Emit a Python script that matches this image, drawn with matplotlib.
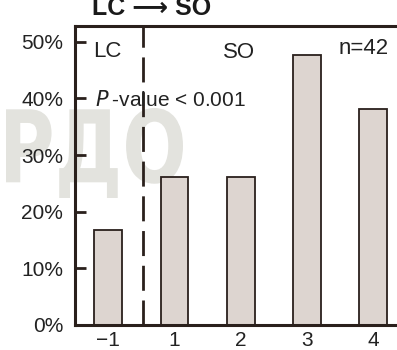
import matplotlib
matplotlib.use("Agg")
import matplotlib.pyplot as plt
from matplotlib.textpath import TextPath
from matplotlib.patches import PathPatch
from matplotlib.font_manager import FontProperties
from matplotlib.transforms import Affine2D

plt.rcParams['font.family'] = ['Liberation Sans', 'DejaVu Sans']

# share of patients per score group
groups = ["\u22121", "1", "2", "3", "4"]
shares = [16.7, 26.2, 26.2, 47.6, 38.1]
yticks = [0, 10, 20, 30, 40, 50]
ytick_labels = ["0%", "10%", "20%", "30%", "40%", "50%"]

dark = "#2a201c"
bar_fill = "#ddd5d0"

W, H = 397, 350
fig = plt.figure(figsize=(W / 100, H / 100), dpi=100)

# faint background stamp
tp = TextPath((0, 0), "\u0420\u0414\u041e", prop=FontProperties(family="DejaVu Sans", weight="bold"))
bb = tp.get_extents()
x0, x1, ytop, ybot = 6, 183, 108, 198
sx = (x1 - x0) / bb.width
sy = (ytop - ybot) / bb.height
tr = Affine2D().translate(-bb.x0, -bb.y0).scale(sx / W, -sy / H).translate(x0 / W, 1 - ybot / H)
stamp = PathPatch(tr.transform_path(tp), facecolor="#e3e3de", edgecolor="none",
                  transform=fig.transFigure, zorder=-1)
fig.patches.append(stamp)

ax = fig.add_axes([75 / W, 25 / H, 331.4 / W, 299 / H])
ax.set_facecolor("none")

x = range(len(groups))
ax.bar(x, shares, width=0.42, color=bar_fill, edgecolor=dark, linewidth=1.3, zorder=2)
ax.axvline(0.52, color=dark, linewidth=2, dashes=(9, 3.5), zorder=1)

ax.set_xlim(-0.5, 4.5)
ax.set_ylim(0, 52.8)
ax.set_xticks(list(x))
ax.set_xticklabels(groups, fontsize=15, color="#222")
ax.set_yticks(yticks)
ax.set_yticklabels(ytick_labels, fontsize=15, color="#222")
ax.tick_params(axis="y", direction="in", length=8, width=2, color=dark, pad=8.5)
ax.tick_params(axis="x", length=0, pad=4)

for side in ["left", "bottom", "top", "right"]:
    ax.spines[side].set_color(dark)
    ax.spines[side].set_linewidth(2.2)

ax.text(-0.22, 48.3, "LC", fontsize=16, color="#222", va="center", ha="left")
ax.text(1.98, 48.2, "SO", fontsize=16, color="#222", va="center", ha="center")
ax.text(3.85, 48.9, "n=42", fontsize=16, color="#222", va="center", ha="center")
ax.text(-0.2, 39.7, "$\\mathit{P}$\u2009-value < 0.001", fontsize=15, color="#222",
        va="center", ha="left")

fig.text(152 / W, 1 - 15 / H, "LC \u27f6 SO", fontsize=18, fontweight="bold",
         color="#1a1a1a", ha="center", va="baseline")

fig.savefig("out.png", dpi=100)
